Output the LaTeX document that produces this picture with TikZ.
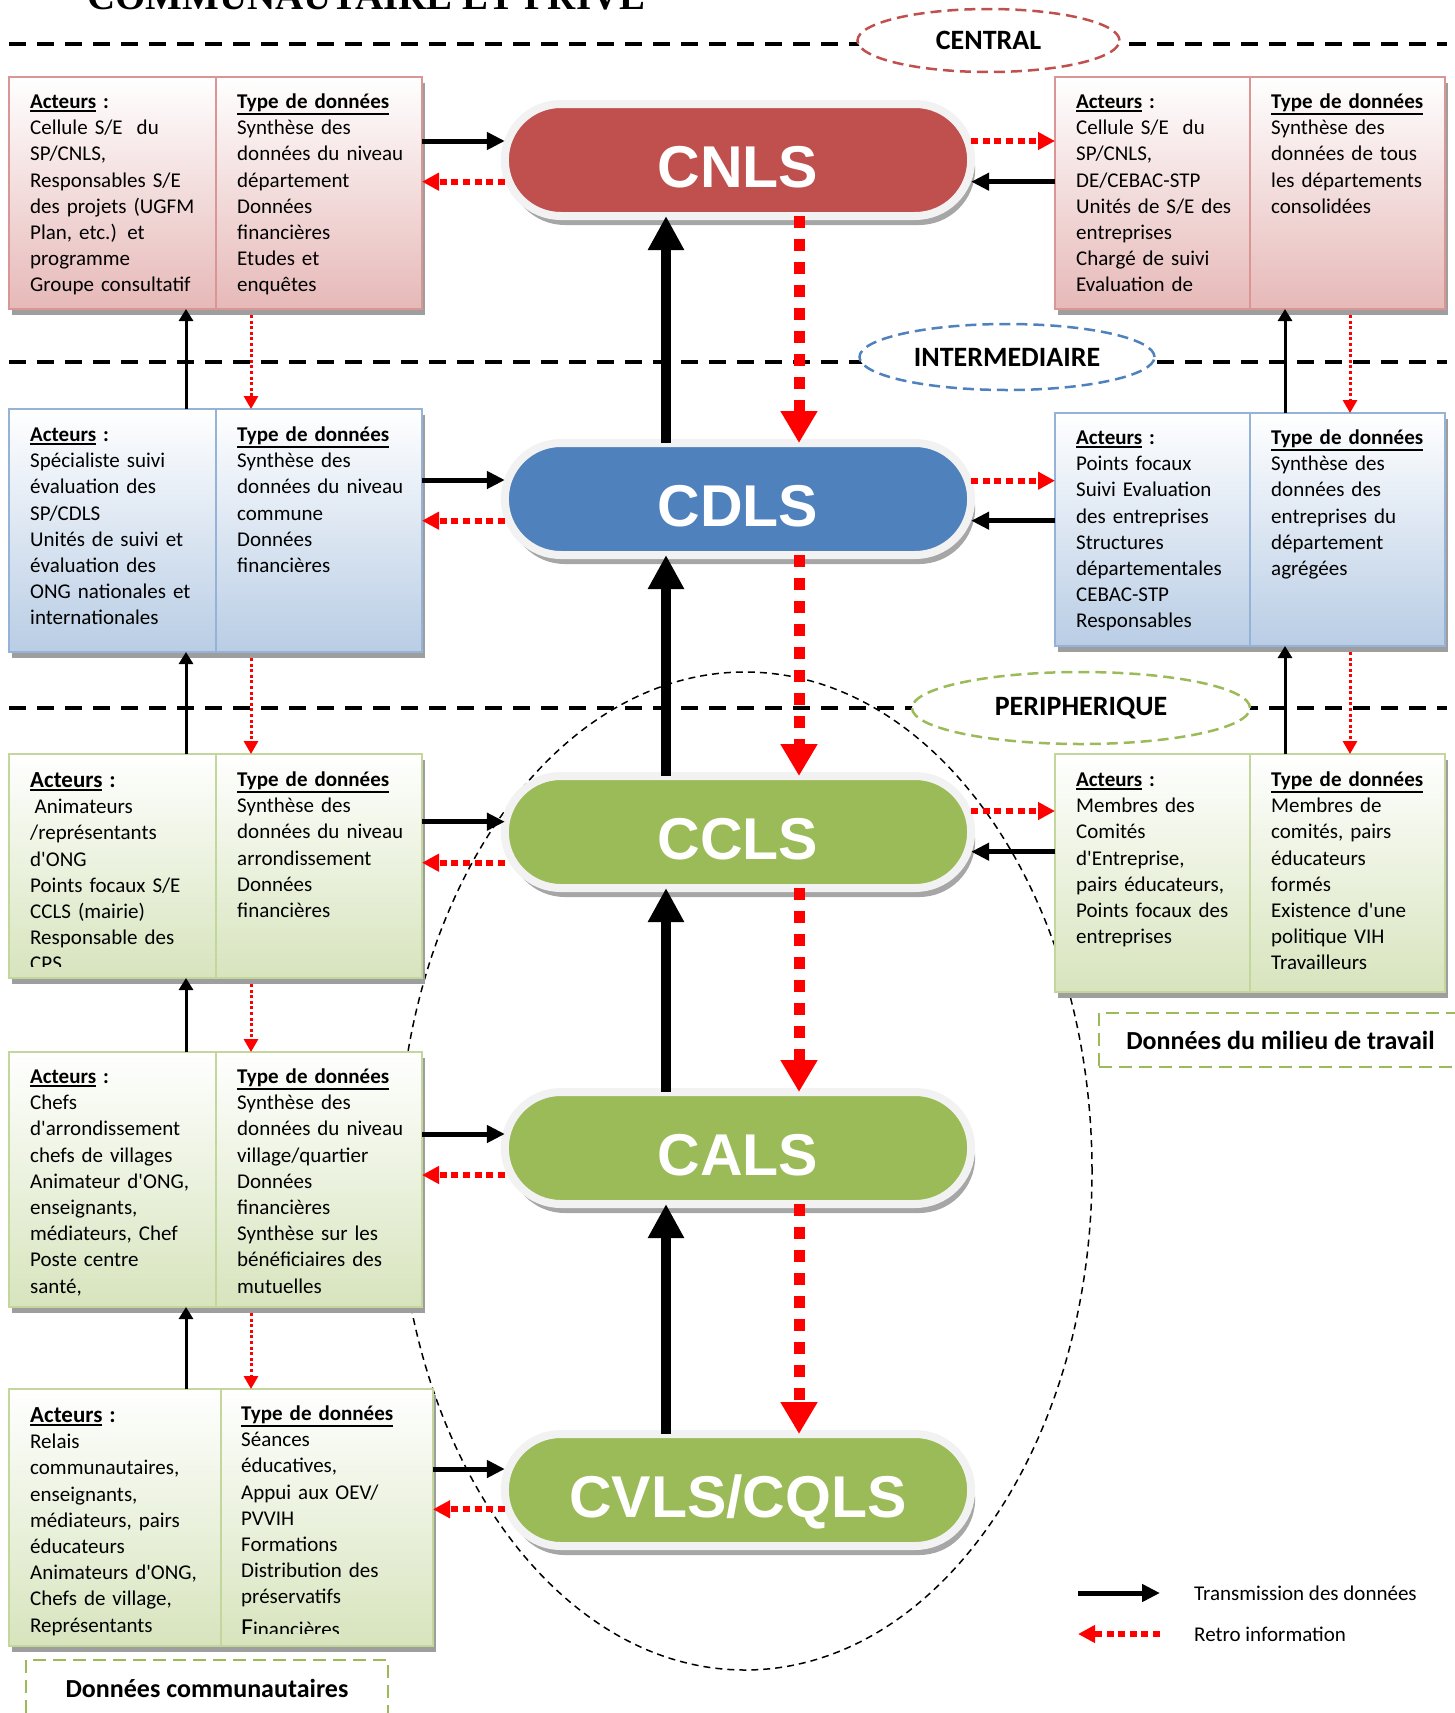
\documentclass[tikz,border=0pt]{standalone}
\usepackage{fontspec}
\setmainfont{Carlito}
\newfontfamily\ovalfont{Liberation Sans}
\newfontfamily\titlefont{Liberation Serif}
\usetikzlibrary{shapes.geometric, shapes.misc, arrows.meta, positioning, shadows}

\definecolor{pinkfill}{HTML}{E6B9B8}
\definecolor{pinkline}{HTML}{D99694}
\definecolor{bluefill}{HTML}{B9CDE5}
\definecolor{blueline}{HTML}{95B3D7}
\definecolor{greenfill}{HTML}{D7E4BD}
\definecolor{greenline}{HTML}{C3D69B}
\definecolor{cnlsred}{HTML}{C0504D}
\definecolor{cdlsblue}{HTML}{4F81BD}
\definecolor{cclsgreen}{HTML}{9BBB59}
\definecolor{ringgrey}{HTML}{F2F2F2}

\newcommand{\entete}[1]{\textbf{\vtop{\hbox{#1}\kern1.5pt\hrule height 1.8pt}}}
\newcommand{\acteurs}{\entete{Acteurs}\textbf{ :}}
\newcommand{\typedon}{\entete{Type de données}}
\newcommand{\apos}{\textquotesingle}

\tikzstyle{boxcell} = [rectangle, anchor=north west, line width=2.5pt, inner sep=0pt, outer sep=0pt, drop shadow={shadow xshift=3pt, shadow yshift=-6pt, fill=black!38, opacity=1}]
\tikzstyle{pinkcell} = [boxcell, draw=pinkline, top color=white, bottom color=pinkfill]
\tikzstyle{bluecell} = [boxcell, draw=blueline, top color=white, bottom color=bluefill]
\tikzstyle{greencell} = [boxcell, draw=greenline, top color=white, bottom color=greenfill]
\tikzstyle{celltext} = [anchor=base west, text width=205pt, align=left, inner sep=0pt, font=\fontsize{21}{26.2}\selectfont]
\tikzstyle{ovalnode} = [rounded rectangle, minimum width=473pt, minimum height=112pt, draw=ringgrey, line width=8pt, outer sep=0pt, text=white, text height=54pt, text depth=0pt, font=\ovalfont\bfseries\fontsize{59}{59}\selectfont, drop shadow={shadow xshift=4pt, shadow yshift=-9pt, fill=black!35, opacity=1}]
\tikzstyle{levelmark} = [ellipse, draw, fill=white, line width=2.5pt, dash pattern=on 11pt off 6pt, inner sep=0pt, font=\bfseries\fontsize{28}{28}\selectfont]
\tikzstyle{levelline} = [line width=4pt, dash pattern=on 17pt off 11pt]
\tikzstyle{notebox} = [rectangle, draw=cclsgreen, line width=2.5pt, dash pattern=on 13pt off 7pt, font=\bfseries\fontsize{26}{26}\selectfont]
\tikzstyle{legendtext} = [anchor=west, inner sep=0pt, font=\fontsize{21}{26}\selectfont]
\tikzstyle{uparrow} = [line width=10pt, -{Triangle[width=34pt, length=34pt]}]
\tikzstyle{downarrow} = [red, line width=11pt, dash pattern=on 12pt off 11pt, -{Triangle[width=35pt, length=32pt]}]
\tikzstyle{sendarrow} = [line width=5pt, -{Triangle[width=17pt, length=18pt]}]
\tikzstyle{retroarrow} = [red, line width=6pt, dash pattern=on 7pt off 4.6pt, -{Triangle[width=17pt, length=17pt]}]
\tikzstyle{thinup} = [line width=3pt, -{Triangle[width=14pt, length=12pt]}]
\tikzstyle{thindown} = [red, line width=3pt, dash pattern=on 3pt off 2.6pt, shorten <=6pt, -{Triangle[width=14pt, length=13pt]}]

\begin{document}
\begin{tikzpicture}[x=1pt, y=1pt, node distance=336pt]
\useasboundingbox (0,0) rectangle (1455,-1713);

\node (titre) [anchor=base west, inner sep=0pt, font=\titlefont\bfseries\fontsize{39}{39}\selectfont] at (87,-9.5) {COMMUNAUTAIRE ET PRIVE};

\draw [dash pattern=on 7pt off 5pt, line width=1.5pt] (745,-1171) ellipse [x radius=347pt, y radius=499pt];

% niveaux
\coordinate (n1w) at (9,-43.5);
\coordinate (n1e) at (1447,-43.5);
\coordinate (n2w) at (9,-361.5);
\coordinate (n2e) at (1447,-361.5);
\coordinate (n3w) at (9,-708);
\coordinate (n3e) at (1447,-708);
\draw [levelline] (n1w) -- (n1e);
\draw [levelline] (n2w) -- (n2e);
\draw [levelline] (n3w) -- (n3e);
\node (central) [levelmark, draw=cnlsred, minimum width=262pt, minimum height=63pt] at (988.5,-40.5) {CENTRAL};
\node (interm) [levelmark, draw=cdlsblue, minimum width=295pt, minimum height=66pt] at (1007,-357) {INTERMEDIAIRE};
\node (periph) [levelmark, draw=cclsgreen, minimum width=338pt, minimum height=72pt] at (1081,-708) {PERIPHERIQUE};

% instances
\node (cnls) [ovalnode, fill=cnlsred] at (738,-160) {CNLS};
\node (cdls) [ovalnode, fill=cdlsblue, below of=cnls, yshift=-3pt] {CDLS};
\node (ccls) [ovalnode, fill=cclsgreen, below of=cdls, yshift=3pt] {CCLS};
\node (cals) [ovalnode, fill=cclsgreen, below of=ccls, yshift=20pt] {CALS};
\node (cvls) [ovalnode, fill=cclsgreen, below of=cals, yshift=-6pt] {CVLS/CQLS};

% tableaux gauche
\node (l1a) [pinkcell, minimum width=207pt, minimum height=232pt] at (9,-77) {};
\node (l1b) [pinkcell, minimum width=206pt, minimum height=232pt, right=0pt of l1a] {};
\node (l2a) [bluecell, minimum width=207pt, minimum height=243pt] at (9,-409) {};
\node (l2b) [bluecell, minimum width=206pt, minimum height=243pt, right=0pt of l2a] {};
\node (l3a) [greencell, minimum width=207pt, minimum height=224pt] at (9,-754) {};
\node (l3b) [greencell, minimum width=206pt, minimum height=224pt, right=0pt of l3a] {};
\node (l4a) [greencell, minimum width=207pt, minimum height=255pt] at (9,-1052) {};
\node (l4b) [greencell, minimum width=206pt, minimum height=255pt, right=0pt of l4a] {};
\node (l5a) [greencell, minimum width=212pt, minimum height=257pt] at (9,-1389) {};
\node (l5b) [greencell, minimum width=212pt, minimum height=257pt, right=0pt of l5a] {};

% tableaux droite
\node (r1a) [pinkcell, minimum width=195pt, minimum height=232pt] at (1055,-77) {};
\node (r1b) [pinkcell, minimum width=195pt, minimum height=232pt, right=0pt of r1a] {};
\node (r2a) [bluecell, minimum width=195pt, minimum height=233pt] at (1055,-413) {};
\node (r2b) [bluecell, minimum width=195pt, minimum height=233pt, right=0pt of r2a] {};
\node (r3a) [greencell, minimum width=195pt, minimum height=238pt] at (1055,-754) {};
\node (r3b) [greencell, minimum width=195pt, minimum height=238pt, right=0pt of r3a] {};

\node (l1at) [celltext] at ([xshift=21pt, yshift=-31.5pt]l1a.north west) {\acteurs\\Cellule S/E\ \ du\\SP/CNLS,\\Responsables S/E\\des projets (UGFM\\Plan, etc.) et\\programme\\Groupe consultatif};
\node (l1bt) [celltext] at ([xshift=21pt, yshift=-31.5pt]l1b.north west) {\typedon\\Synthèse des\\données du niveau\\département\\Données\\financières\\Etudes et\\enquêtes};
\node (l2at) [celltext] at ([xshift=21pt, yshift=-32.5pt]l2a.north west) {\acteurs\\Spécialiste suivi\\évaluation des\\SP/CDLS\\Unités de suivi et\\évaluation des\\ONG nationales et\\internationales};
\node (l2bt) [celltext] at ([xshift=21pt, yshift=-32.5pt]l2b.north west) {\typedon\\Synthèse des\\données du niveau\\commune\\Données\\financières};
\begin{scope}
\clip (l3a.north west) rectangle ([yshift=12pt]l3a.south east);
\node (l3at) [celltext] at ([xshift=21pt, yshift=-33.5pt]l3a.north west) {{\fontsize{23}{26.2}\selectfont\acteurs}\\\hspace*{4.5pt}Animateurs\\/représentants\\d\apos ONG\\Points focaux S/E\\CCLS (mairie)\\Responsable des\\CPS};
\end{scope}
\node (l3bt) [celltext] at ([xshift=21pt, yshift=-32.5pt]l3b.north west) {\typedon\\Synthèse des\\données du niveau\\arrondissement\\Données\\financières};
\node (l4at) [celltext] at ([xshift=21pt, yshift=-31.5pt]l4a.north west) {\acteurs\\Chefs\\d\apos arrondissement\\chefs de villages\\Animateur d\apos ONG,\\enseignants,\\médiateurs, Chef\\Poste centre\\santé,};
\node (l4bt) [celltext] at ([xshift=21pt, yshift=-31.5pt]l4b.north west) {\typedon\\Synthèse des\\données du niveau\\village/quartier\\Données\\financières\\Synthèse sur les\\bénéficiaires des\\mutuelles};
\node (l5at) [celltext] at ([xshift=21pt, yshift=-33.5pt]l5a.north west) {{\fontsize{23}{26.2}\selectfont\acteurs}\\Relais\\communautaires,\\enseignants,\\médiateurs, pairs\\éducateurs\\Animateurs d\apos ONG,\\Chefs de village,\\Représentants};
\begin{scope}
\clip (l5b.north west) rectangle ([yshift=13pt]l5b.south east);
\node (l5bt) [celltext] at ([xshift=20pt, yshift=-31.5pt]l5b.north west) {\typedon\\Séances\\éducatives,\\Appui aux OEV/\\PVVIH\\Formations\\Distribution des\\préservatifs\\[6pt]{\fontsize{26}{26}\selectfont F}inancières};
\end{scope}
\node (r1at) [celltext] at ([xshift=21pt, yshift=-31.5pt]r1a.north west) {\acteurs\\Cellule S/E\ \ du\\SP/CNLS,\\DE/CEBAC-STP\\Unités de S/E des\\entreprises\\Chargé de suivi\\Evaluation de};
\node (r1bt) [celltext] at ([xshift=21pt, yshift=-31.5pt]r1b.north west) {\typedon\\Synthèse des\\données de tous\\les départements\\consolidées};
\node (r2at) [celltext] at ([xshift=21pt, yshift=-31.5pt]r2a.north west) {\acteurs\\Points focaux\\Suivi Evaluation\\des entreprises\\Structures\\départementales\\CEBAC-STP\\Responsables};
\node (r2bt) [celltext] at ([xshift=21pt, yshift=-31.5pt]r2b.north west) {\typedon\\Synthèse des\\données des\\entreprises du\\département\\agrégées};
\node (r3at) [celltext] at ([xshift=21pt, yshift=-32.5pt]r3a.north west) {\acteurs\\Membres des\\Comités\\d\apos Entreprise,\\pairs éducateurs,\\Points focaux des\\entreprises};
\node (r3bt) [celltext] at ([xshift=21pt, yshift=-32.5pt]r3b.north west) {\typedon\\Membres de\\comités, pairs\\éducateurs\\formés\\Existence d\apos une\\politique VIH\\Travailleurs};

% transmission entre instances
\draw [uparrow] ([xshift=-72pt]cdls.north) -- ([xshift=-72pt]cnls.south);
\draw [uparrow] ([xshift=-72pt]ccls.north) -- ([xshift=-72pt]cdls.south);
\draw [uparrow] ([xshift=-72pt]cals.north) -- ([xshift=-72pt]ccls.south);
\draw [uparrow] ([xshift=-72pt]cvls.north) -- ([xshift=-72pt]cals.south);
\draw [downarrow] ([xshift=61pt]cnls.south) -- ([xshift=61pt]cdls.north);
\draw [downarrow] ([xshift=61pt]cdls.south) -- ([xshift=61pt]ccls.north);
\draw [downarrow] ([xshift=61pt]ccls.south) -- ([xshift=61pt]cals.north);
\draw [downarrow] ([xshift=61pt]cals.south) -- ([xshift=61pt]cvls.north);

% tableaux <-> instances
\draw [sendarrow] (l1b.east |- 0,-141) -- (cnls.west |- 0,-141);
\draw [retroarrow] (cnls.west |- 0,-181.7) -- (l1b.east |- 0,-181.7);
\draw [sendarrow] (l2b.east |- 0,-480) -- (cdls.west |- 0,-480);
\draw [retroarrow] (cdls.west |- 0,-520.7) -- (l2b.east |- 0,-520.7);
\draw [sendarrow] (l3b.east |- 0,-821.7) -- (ccls.west |- 0,-821.7);
\draw [retroarrow] (ccls.west |- 0,-862.7) -- (l3b.east |- 0,-862.7);
\draw [sendarrow] (l4b.east |- 0,-1134) -- (cals.west |- 0,-1134);
\draw [retroarrow] (cals.west |- 0,-1175) -- (l4b.east |- 0,-1175);
\draw [sendarrow] (l5b.east |- 0,-1469) -- (cvls.west |- 0,-1469);
\draw [retroarrow] (cvls.west |- 0,-1509.3) -- (l5b.east |- 0,-1509.3);
\draw [retroarrow] (cnls.east |- 0,-141) -- (r1a.west |- 0,-141);
\draw [sendarrow] (r1a.west |- 0,-181.7) -- (cnls.east |- 0,-181.7);
\draw [retroarrow] (cdls.east |- 0,-480.7) -- (r2a.west |- 0,-480.7);
\draw [sendarrow] (r2a.west |- 0,-520.7) -- (cdls.east |- 0,-520.7);
\draw [retroarrow] (ccls.east |- 0,-811) -- (r3a.west |- 0,-811);
\draw [sendarrow] (r3a.west |- 0,-851.7) -- (ccls.east |- 0,-851.7);

% tableaux entre eux
\draw [thinup] (l2a.north -| 186,0) -- (l1a.south -| 186,0);
\draw [thinup] (l3a.north -| 186,0) -- (l2a.south -| 186,0);
\draw [thinup] (l4a.north -| 186,0) -- (l3a.south -| 186,0);
\draw [thinup] (l5a.north -| 186,0) -- (l4a.south -| 186,0);
\draw [thindown] (l1b.south -| 251,0) -- (l2b.north -| 251,0);
\draw [thindown] (l2b.south -| 251,0) -- (l3b.north -| 251,0);
\draw [thindown] (l3b.south -| 251,0) -- (l4b.north -| 251,0);
\draw [thindown] (l4b.south -| 251,0) -- (l5b.north -| 251,0);
\draw [thinup] (r2b.north -| 1285,0) -- (r1b.south -| 1285,0);
\draw [thinup] (r3b.north -| 1285,0) -- (r2b.south -| 1285,0);
\draw [thindown] (r1b.south -| 1350,0) -- (r2b.north -| 1350,0);
\draw [thindown] (r2b.south -| 1350,0) -- (r3b.north -| 1350,0);

\node (travail) [notebox, minimum width=363pt, minimum height=54pt] at (1280.5,-1040) {Données du milieu de travail};
\node (commun) [notebox, minimum width=362pt, minimum height=56pt] at (207,-1688) {Données communautaires};

% legende
\node (lgsend) [legendtext] at (1194,-1593) {Transmission des données};
\node (lgretro) [legendtext] at (1194,-1634) {Retro information};
\draw [sendarrow] ([xshift=-116pt]lgsend.west) -- ([xshift=-34pt]lgsend.west);
\draw [retroarrow] ([xshift=-34pt]lgretro.west) -- ([xshift=-116pt]lgretro.west);

\end{tikzpicture}
\end{document}
